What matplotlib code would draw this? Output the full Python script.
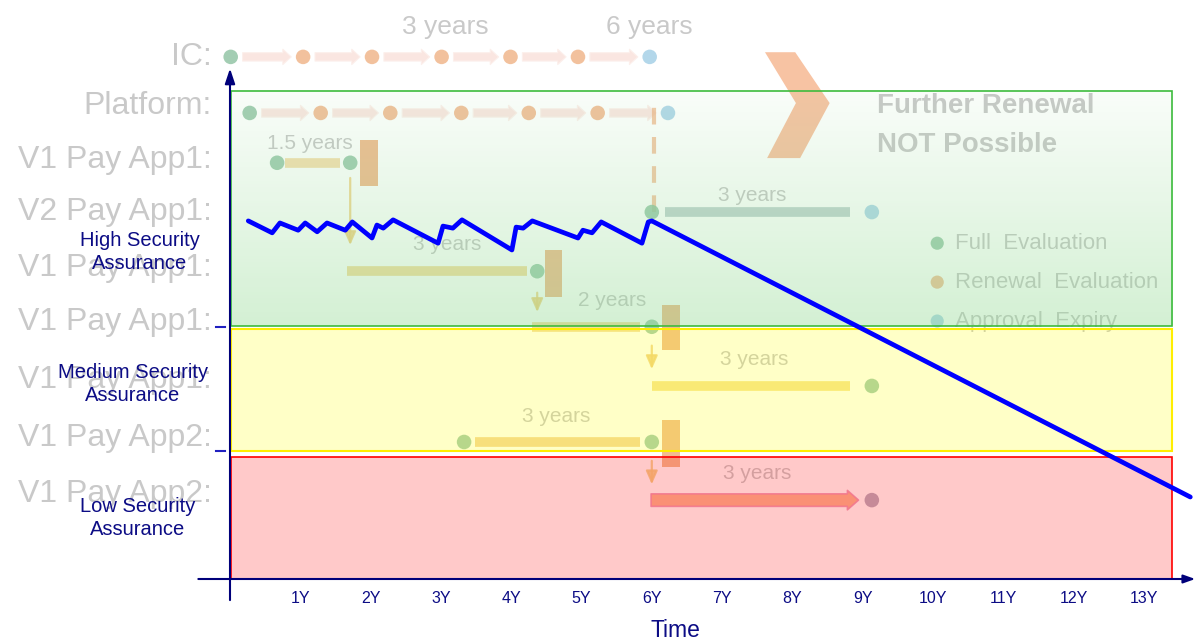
import matplotlib
matplotlib.use("Agg")
import matplotlib.pyplot as plt
import numpy as np
from matplotlib.patches import Rectangle, Polygon

plt.rcParams['font.family'] = ['Liberation Sans', 'DejaVu Sans']

# ---------------- data ----------------
# blue assurance line (time in years, assurance level)
line_x = [0.26, 0.60, 0.71, 0.97, 1.07, 1.24, 1.38, 1.64, 1.74, 2.02, 2.09, 2.18, 2.32,
          2.96, 3.03, 3.17, 3.30, 4.01, 4.07, 4.17, 4.30, 4.95, 5.02, 5.15, 5.28, 5.86,
          5.95, 6.00, 13.66]
line_y = [69.0, 66.7, 68.6, 67.2, 68.6, 66.9, 68.6, 67.2, 68.8, 65.7, 68.2, 67.6, 69.2,
          64.7, 68.0, 67.6, 69.2, 63.4, 67.8, 67.6, 69.0, 65.7, 67.2, 66.7, 68.8, 64.7,
          68.8, 69.0, 15.8]

# assurance bands
band_names = ["High Security\nAssurance", "Medium Security\nAssurance", "Low Security\nAssurance"]
band_y0 = [48.75, 24.66, 0.0]
band_y1 = [94.0, 48.17, 23.5]
band_label_x = [-1.28, -1.38, -1.31]
band_label_y = [63.0, 37.6, 11.8]
band_x0, band_x1 = 0.01, 13.40

tick_years = list(range(1, 14))
tick_labels = [f"{k}Y" for k in tick_years]
ytick_marks = [48.6, 24.7]

# faded background timeline diagram
row_labels = ["IC:", "Platform:", "V1 Pay App1:", "V2 Pay App1:", "V1 Pay App1:",
              "V1 Pay App1:", "V1 Pay App1:", "V1 Pay App2:", "V1 Pay App2:"]
row_label_y = [100.6, 91.1, 80.7, 70.7, 59.9, 49.5, 38.3, 27.2, 16.4]

ic_x = [0.01, 1.04, 2.02, 3.01, 3.99, 4.95, 5.97]
ic_y = 100.6
plat_x = [0.28, 1.29, 2.28, 3.29, 4.25, 5.23, 6.23]
plat_y = 89.8
chain_kinds = ["full", "renew", "renew", "renew", "renew", "renew", "expiry"]

dot_x = [0.67, 1.71, 6.00, 9.13, 4.37, 6.00, 9.13, 3.33, 6.00, 9.13]
dot_y = [80.2, 80.2, 70.7, 70.7, 59.3, 48.6, 37.2, 26.4, 26.4, 15.2]
dot_kind = ["full", "full", "full", "expiry", "full", "full", "full", "full", "full", "other"]

bar_x0 = [0.78, 6.19, 1.66, 4.30, 6.00, 3.49]
bar_x1 = [1.57, 8.82, 4.22, 5.83, 8.82, 5.83]
bar_y = [80.2, 70.7, 59.3, 48.6, 37.2, 26.4]
bar_col = ["#f3d9a0", "#b6cbc8", "#f3d68f", "#f3d68f", "#f7df80", "#f5cf8a"]

rect_x0 = [1.85, 4.48, 6.15, 6.15]
rect_x1 = [2.11, 4.72, 6.40, 6.40]
rect_y0 = [75.7, 54.3, 44.1, 21.6]
rect_y1 = [84.6, 63.4, 52.8, 30.6]

down_x = [1.71, 4.37, 6.00, 6.00]
down_y0 = [77.8, 55.7, 45.5, 23.3]
down_y1 = [63.8, 50.9, 39.9, 17.7]

dur_text = ["1.5 years", "3 years", "3 years", "2 years", "3 years", "3 years", "3 years"]
dur_x = [1.14, 7.43, 3.09, 5.43, 7.45, 4.64, 7.50]
dur_y = [84.0, 73.8, 64.5, 53.6, 42.2, 31.4, 20.4]
top_text = ["3 years", "6 years"]
top_x = [3.06, 5.97]
top_y = [106.4, 106.4]

chev_x = [7.61, 8.04, 8.53, 8.11, 7.64, 8.05]
chev_y = [101.5, 101.5, 91.7, 81.1, 81.1, 91.7]

legend_labels = ["Full  Evaluation", "Renewal  Evaluation", "Approval  Expiry"]
legend_kind = ["full", "renew", "expiry"]
legend_y = [64.7, 57.2, 49.7]
legend_x = 10.06

kind_color = {"full": "#8fc3a2", "renew": "#f0b488", "expiry": "#a3cfe6", "other": "#a89cb2"}

# ---------------- figure ----------------
fig = plt.figure(figsize=(11.98, 6.41), dpi=100)
ax = fig.add_axes([0, 0, 1, 1])
ax.set_xlim(-230 / 70.3, (1198 - 230) / 70.3)
ax.set_ylim((579 - 641) / 5.19, 579 / 5.19)
ax.axis("off")

GRAY = "#c9c9c9"
FADE = 0.72
# background labels
for lab, yy in zip(row_labels, row_label_y):
    ax.text(-0.26, yy, lab, ha="right", va="center", fontsize=23, color=GRAY, zorder=1)

# chains (IC / Platform)
for xs, yy in [(ic_x, ic_y), (plat_x, plat_y)]:
    for a, b in zip(xs[:-1], xs[1:]):
        ax.annotate("", xy=(b - 0.13, yy), xytext=(a + 0.13, yy),
                    arrowprops=dict(arrowstyle="simple,head_width=1.1,head_length=0.6,tail_width=0.6",
                                    fc="#fae6e1", ec="#fcefeb", lw=0.8), zorder=1)
    ax.scatter(xs, [yy] * len(xs), s=110, c=[kind_color[k] for k in chain_kinds],
               zorder=2, edgecolors="none", alpha=FADE + 0.1)

for t, xx, yy in zip(top_text, top_x, top_y):
    ax.text(xx, yy, t, ha="center", va="center", fontsize=19, color=GRAY, zorder=1)

# dashed orange vertical
ax.plot([6.03, 6.03], [70.7, 92.9], color="#f0b488", lw=3, ls=(0, (4, 3)), zorder=1, alpha=FADE)

# bars
for x0, x1, yy, c in zip(bar_x0, bar_x1, bar_y, bar_col):
    ax.plot([x0, x1], [yy, yy], color=c, lw=7, solid_capstyle="butt", zorder=1, alpha=FADE + 0.1)
# row 9 arrow
ax.annotate("", xy=(8.98, 15.2), xytext=(5.95, 15.2),
            arrowprops=dict(arrowstyle="simple,head_width=1.4,head_length=0.8,tail_width=0.9",
                            fc="#f8aa80", ec="#ee93b3", lw=1.2, alpha=0.85), zorder=1)

for x0, x1, y0, y1 in zip(rect_x0, rect_x1, rect_y0, rect_y1):
    ax.add_patch(Rectangle((x0, y0), x1 - x0, y1 - y0, fc="#eeae7a", ec="none", zorder=1,
                           alpha=FADE + 0.1))

for xx, y0, y1 in zip(down_x, down_y0, down_y1):
    ax.annotate("", xy=(xx, y1), xytext=(xx, y0),
                arrowprops=dict(arrowstyle="-|>,head_width=0.35,head_length=0.8",
                                color="#f1cf82", lw=1.6, alpha=FADE + 0.1), zorder=1)

ax.scatter(dot_x, dot_y, s=110, c=[kind_color[k] for k in dot_kind], zorder=2,
           edgecolors="none", alpha=FADE + 0.1)

for t, xx, yy in zip(dur_text, dur_x, dur_y):
    ax.text(xx, yy, t, ha="center", va="center", fontsize=15, color=GRAY, zorder=1)

ax.add_patch(Polygon(list(zip(chev_x, chev_y)), closed=True, fc="#f6b48c", ec="none",
                     zorder=1, alpha=0.8))
ax.text(9.2, 91.1, "Further Renewal", ha="left", va="center", fontsize=20,
        fontweight="bold", color=GRAY, zorder=1)
ax.text(9.2, 83.6, "NOT Possible", ha="left", va="center", fontsize=20,
        fontweight="bold", color=GRAY, zorder=1)

for lab, k, yy in zip(legend_labels, legend_kind, legend_y):
    ax.scatter([legend_x], [yy], s=90, c=kind_color[k], zorder=2, edgecolors="none",
               alpha=FADE + 0.1)
    ax.text(legend_x + 0.25, yy, lab, ha="left", va="center", fontsize=16, color=GRAY, zorder=1)

# ---------------- assurance bands ----------------
g0, g1 = band_y0[0], band_y1[0]
grad = np.zeros((200, 2, 4))
alphas = np.linspace(0.38, 0.05, 200)
grad[..., 0] = 0.55
grad[..., 1] = 0.85
grad[..., 2] = 0.55
grad[..., 3] = alphas[:, None]
ax.imshow(grad, extent=(band_x0, band_x1, g0, g1), origin="lower", aspect="auto",
          interpolation="bilinear", zorder=3)
ax.add_patch(Rectangle((band_x0, g0), band_x1 - band_x0, g1 - g0, fc="none",
                       ec="#3dbb3d", lw=1.2, zorder=3.5))
ax.add_patch(Rectangle((band_x0, band_y0[1]), band_x1 - band_x0, band_y1[1] - band_y0[1],
                       fc=(1, 1, 0, 0.22), ec="#ffee00", lw=1.5, zorder=3))
ax.add_patch(Rectangle((band_x0, band_y0[2]), band_x1 - band_x0, band_y1[2] - band_y0[2],
                       fc=(1, 0.05, 0.05, 0.22), ec="#ff0000", lw=1.2, zorder=3))

NAVY = "#0c0c85"
for name, xx, yy in zip(band_names, band_label_x, band_label_y):
    ax.text(xx, yy, name, ha="center", va="center", fontsize=14.5, color=NAVY,
            linespacing=1.3, zorder=6)

# ---------------- axes ----------------
ax.annotate("", xy=(13.77, 0), xytext=(-0.49, 0),
            arrowprops=dict(arrowstyle="-|>,head_width=0.25,head_length=0.7",
                            color="#00007a", lw=1.5), zorder=5)
ax.annotate("", xy=(0.0, 98.9), xytext=(0.0, -4.6),
            arrowprops=dict(arrowstyle="-|>,head_width=0.3,head_length=0.9",
                            color="#00007a", lw=1.5), zorder=5)
for yy in ytick_marks:
    ax.plot([-0.2, -0.07], [yy, yy], color="#2020c0", lw=1.5, zorder=5)
for k, lab in zip(tick_years, tick_labels):
    ax.text(k + 0.0, -3.7, lab, ha="center", va="center", fontsize=11.5, color=NAVY, zorder=6)
ax.text(6.34, -9.9, "Time", ha="center", va="center", fontsize=16.5, color=NAVY, zorder=6)

# ---------------- blue line ----------------
ax.plot(line_x, line_y, color="#0000ff", lw=3.4, solid_joinstyle="round",
        solid_capstyle="round", zorder=7)

fig.savefig("out.png", dpi=100)
